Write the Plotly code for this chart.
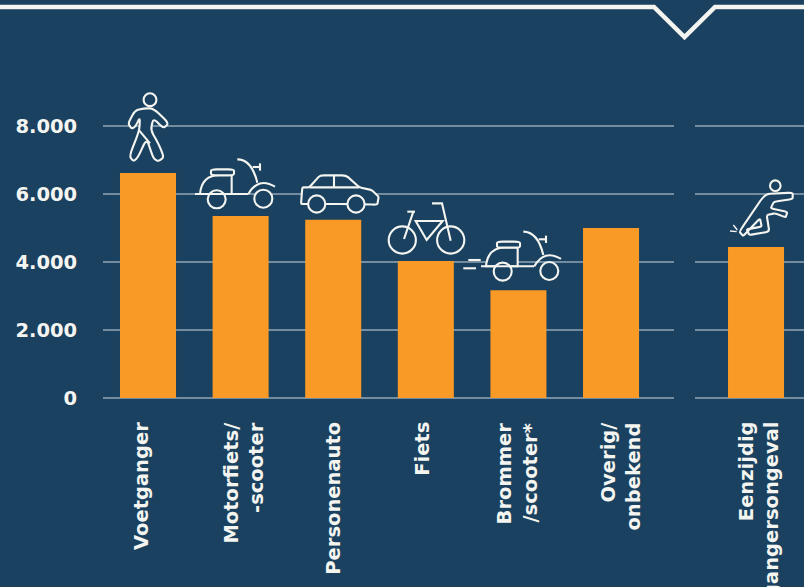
import re
import plotly.graph_objects as go

categories_main = ["Voetganger", "Motorfiets/<br>-scooter", "Personenauto", "Fiets", "Brommer<br>/scooter*", "Overig/<br>onbekend"]
values_main = [6620, 5350, 5240, 4030, 3170, 5000]
categories_side = ["Eenzijdig<br>voetgangersongeval"]
values_side = [4440]
tick_values = [0, 2000, 4000, 6000, 8000]
label_shift_main = [-7, 3, 0, -4, -1, 9]
label_shift_side = [2]

W, H = 804, 587
BG = "#1A415F"
ORANGE = "#F89A25"
WHITE = "#F4F5F0"
GRID = "#748CA0"
FONT = "DejaVu Sans"

def fx(px): return px / W
def fy(py): return 1 - py / H

def path(d, fill=BG, w=2.1, color=WHITE):
    idx = 0
    def rep(m):
        nonlocal idx
        v = float(m.group())
        idx += 1
        return f"{fx(v):.5f}" if idx % 2 else f"{fy(v):.5f}"
    return dict(type="path", xref="paper", yref="paper", layer="above",
                path=re.sub(r"-?\d+\.?\d*", rep, d),
                fillcolor=fill, line=dict(color=color, width=w))

def poly(pts, close=True, **k):
    d = "M" + " L".join(f"{x:.2f} {y:.2f}" for x, y in pts) + (" Z" if close else "")
    return path(d, fill=k.pop("fill", BG if close else "rgba(0,0,0,0)"), **k)

def rounded(pts, f=0.35, **k):
    n = len(pts)
    d = ""
    for i, (x, y) in enumerate(pts):
        ax, ay = pts[i - 1]
        bx, by = pts[(i + 1) % n]
        p0 = (x + (ax - x) * f, y + (ay - y) * f)
        p1 = (x + (bx - x) * f, y + (by - y) * f)
        d += ("M" if i == 0 else " L") + f"{p0[0]:.2f} {p0[1]:.2f} Q{x:.2f} {y:.2f} {p1[0]:.2f} {p1[1]:.2f}"
    return path(d + " Z", **k)

def z2(pts): return [(100 + x / 3, 80 + y / 3) for x, y in pts]
def z3(pts): return [(380 + x / 3, 170 + y / 3) for x, y in pts]

def circle(cx, cy, r, w=2.1, fill=BG):
    return dict(type="circle", xref="paper", yref="paper", layer="above",
                x0=fx(cx - r), x1=fx(cx + r), y0=fy(cy + r), y1=fy(cy - r),
                fillcolor=fill, line=dict(color=WHITE, width=w))

def smooth(pts):
    d = f"M{pts[0][0]:.2f} {pts[0][1]:.2f}"
    for i in range(1, len(pts) - 1, 2):
        d += f" Q{pts[i][0]:.2f} {pts[i][1]:.2f} {pts[i+1][0]:.2f} {pts[i+1][1]:.2f}"
    return d

shapes = []
# top rule with notch
shapes.append(dict(type="path", xref="paper", yref="paper", layer="above",
    path=f"M0 {fy(7)} L{fx(654)} {fy(7)} L{fx(684.5)} {fy(37)} L{fx(715)} {fy(7)} L1 {fy(7)}",
    line=dict(color=WHITE, width=4.5), fillcolor="rgba(0,0,0,0)"))

# pedestrian
shapes.append(rounded(z2([(130,85),(105,92),(84,130),(95,146),(106,140),(120,112),(118,152),(88,228),(100,244),(114,232),(140,175),(160,235),(175,244),(192,232),(175,190),(152,150),(160,115),(190,145),(207,130),(160,85)])))
shapes.append(poly(z2([(118,152),(150,190)]), close=False))
shapes.append(circle(150, 99.7, 6.4))

def scooter(dx, dy):
    s = []
    t = lambda pts: [(100 + x / 3 + dx, 80 + y / 3 + dy) for x, y in pts]
    s.append(path(smooth(t([(300,342),(305,285),(360,285)])) + " " + " ".join(f"L{x:.2f} {y:.2f}" for x, y in t([(395,285),(395,342)])) + " Z"))
    s.append(rounded(t([(333,268),(402,268),(402,286),(333,286)]), f=0.25))
    s.append(circle(216.7 + dx, 199.3 + dy, 9))
    s.append(poly(t([(285,342),(445,342)]), close=False))
    s.append(path(smooth(t([(445,342),(475,290),(525,320)])), fill="rgba(0,0,0,0)"))
    s.append(path(smooth(t([(412,238),(455,238),(472,308)])), fill="rgba(0,0,0,0)"))
    s.append(poly(t([(458,261),(482,261)]), close=False))
    s.append(poly(t([(480,250),(480,272)]), close=False))
    s.append(circle(263.3 + dx, 198.7 + dy, 9))
    return s

shapes += scooter(0, 0)
shapes += scooter(286, 72.3)
shapes.append(poly([(468.3,260),(480.7,260)], close=False))
shapes.append(poly([(463.3,268.3),(476,268.3)], close=False))

# car
shapes.append(rounded(z2([(607,322),(628,322),(660,286),(738,286),(778,322),(815,330),(836,350),(832,374),(740,372),(622,372),(603,372)]), f=0.15))
shapes.append(poly(z2([(628,322),(778,322)]), close=False))
shapes.append(poly(z2([(702,288),(702,322)]), close=False))
shapes.append(circle(316.7, 204, 8.6))
shapes.append(circle(356, 204, 8.6))

# bicycle
shapes.append(circle(402.3, 240, 13.6))
shapes.append(circle(450.7, 240, 13.6))
shapes.append(poly(z3([(107,153),(188,153),(140,210)]), close=True, fill="rgba(0,0,0,0)"))
shapes.append(poly(z3([(100,125),(72,207)]), close=False))
shapes.append(poly(z3([(82,125),(105,125)]), close=False))
shapes.append(poly(z3([(156,100),(186,100),(212,212)]), close=False))

# falling person
shapes.append(rounded(z3([(1155,72),(1238,68),(1238,87),(1182,95),(1172,115),(1222,126),(1217,142),(1185,130),(1160,135),(1168,185),(1108,195),(1100,178),(1145,170),(1140,145),(1090,198),(1078,185)]), f=0.18))
shapes.append(circle(775.3, 185.7, 5.3))
shapes.append(poly(z3([(1060,165),(1072,180)]), close=False, w=1.4))
shapes.append(poly(z3([(1050,183),(1070,185)]), close=False, w=1.4))

font_lab = dict(family=FONT, size=19.5, color=WHITE, weight=700)
annotations = []
for ref, cats, shifts in (("x", categories_main, label_shift_main), ("x2", categories_side, label_shift_side)):
    for c, s in zip(cats, shifts):
        annotations.append(dict(x=c, y=0, xref=ref, yref="y", text=c, textangle=-90, showarrow=False,
                                xanchor="center", yanchor="top", yshift=-22, xshift=s, align="right",
                                font=font_lab))

fig = go.Figure()
fig.add_bar(x=categories_main, y=values_main, marker=dict(color=ORANGE, line_width=0), width=0.605,
            xaxis="x", yaxis="y", showlegend=False)
fig.add_bar(x=categories_side, y=values_side, marker=dict(color=ORANGE, line_width=0), width=0.605,
            xaxis="x2", yaxis="y2", showlegend=False)

yd = [fy(398), fy(100)]
yr = [0, 298 / 0.034]
axis_y = dict(range=yr, domain=yd, tickvals=tick_values, gridcolor=GRID, gridwidth=1.5,
              zeroline=True, zerolinecolor=GRID, zerolinewidth=1.5, showline=False)
fig.update_layout(
    width=W, height=H, margin=dict(l=0, r=0, t=0, b=0, autoexpand=False), autosize=False,
    paper_bgcolor=BG, plot_bgcolor=BG, separators=",.", shapes=shapes, annotations=annotations,
    xaxis=dict(domain=[fx(103), fx(674)], range=[-0.486, 5.68], type="category",
               categoryorder="array", categoryarray=categories_main,
               showticklabels=False, showgrid=False, zeroline=False, ticks=""),
    xaxis2=dict(domain=[fx(695), 1], range=[-0.659, 0.518], type="category",
                showticklabels=False, showgrid=False, zeroline=False, ticks=""),
    yaxis=dict(**axis_y, anchor="x", tickformat=",d", ticks="outside", ticklen=21, tickcolor=BG,
               tickfont=dict(family=FONT, size=19.5, color=WHITE, weight=700)),
    yaxis2=dict(**axis_y, anchor="x2", showticklabels=False, ticks=""),
)
fig.write_html("out.html", config=dict(displayModeBar=False),
               post_script="document.body.style.margin='0';document.documentElement.style.background='#1A415F';document.body.style.overflow='hidden';")
